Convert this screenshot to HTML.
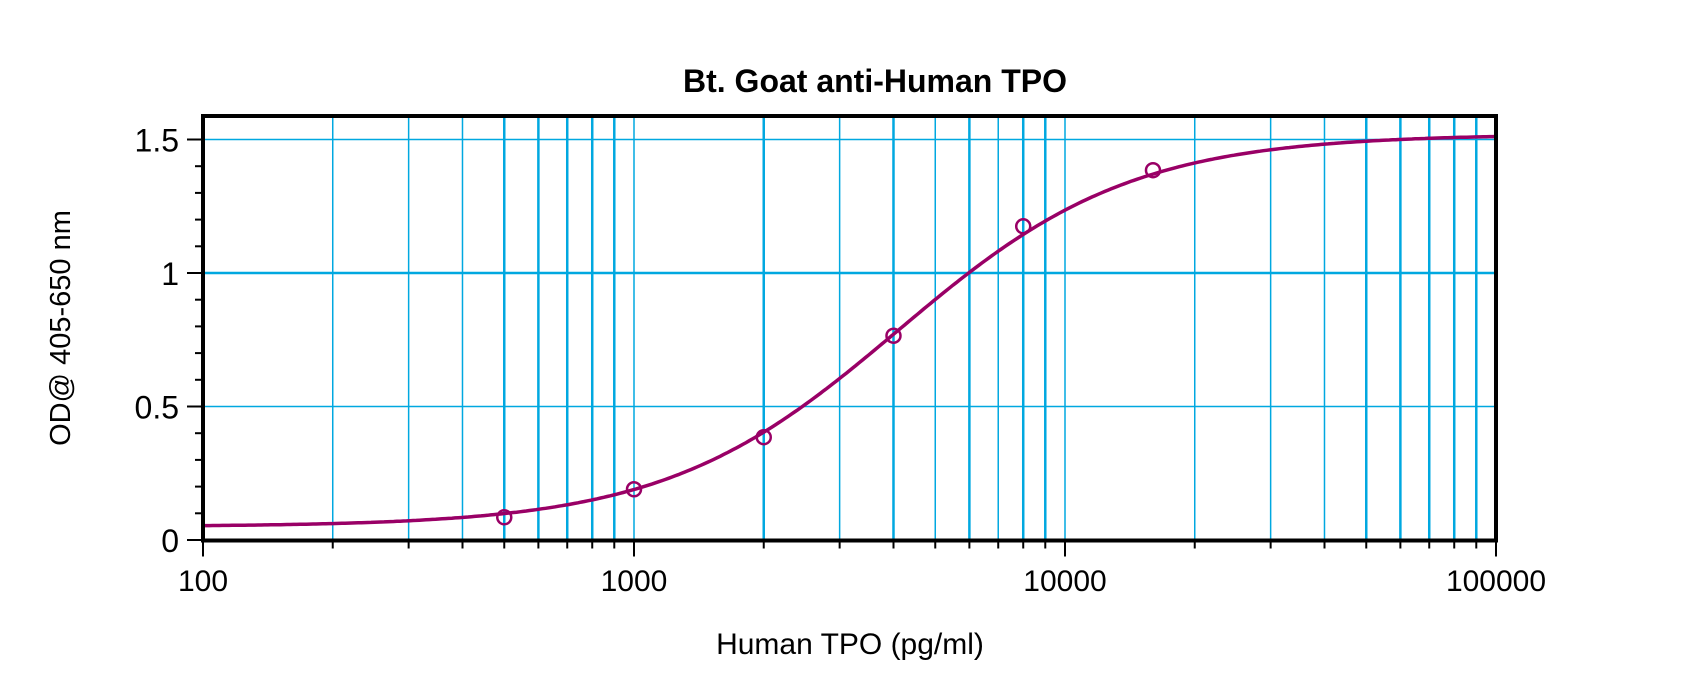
<!DOCTYPE html>
<html><head><meta charset="utf-8"><style>
html,body{margin:0;padding:0;background:#fff;width:1700px;height:686px;overflow:hidden}
svg{display:block}
text{font-family:"Liberation Sans",Arial,sans-serif;fill:#000}
</style></head><body>
<svg id="s" width="1700" height="686" viewBox="0 0 1700 686" xmlns="http://www.w3.org/2000/svg">
<g id="grid"></g>
<path id="curve" fill="none" stroke="#990066" stroke-width="3.5"/>
<g id="pts"></g>
<rect x="203" y="116" width="1293" height="424.5" fill="none" stroke="#000" stroke-width="4"/>
<g id="ticks" stroke="#000" stroke-width="2"></g>
<text x="875" y="92" font-size="32" font-weight="bold" text-anchor="middle">Bt. Goat anti-Human TPO</text>
<text transform="translate(70,328) rotate(-90)" font-size="29" text-anchor="middle">OD@ 405-650 nm</text>
<text x="850" y="654" font-size="30" text-anchor="middle">Human TPO (pg/ml)</text>
<g id="lbl"></g>
</svg>
<script>
var NS="http://www.w3.org/2000/svg";
function el(p,t,a,txt){var e=document.createElementNS(NS,t);for(var k in a)e.setAttribute(k,a[k]);if(txt!==undefined)e.textContent=txt;document.getElementById(p).appendChild(e);return e;}
var L=203,R=1496,T=116,B=540.5,DEC=431;
function X(v){return L+DEC*(Math.log10(v)-2);}
function Y(v){return 540-267*v;}
var thick={500:1,600:1,700:1,800:1,900:1,2000:1,4000:1,6000:1,8000:1,9000:1,50000:1,60000:1,70000:1,80000:1,90000:1};
for(var d=100;d<=10000;d*=10){for(var m=1;m<=9;m++){var v=d*m;if(v==100)continue;var x=X(v);
el("grid","line",{x1:x,x2:x,y1:T,y2:B,stroke:"#00a8e0","stroke-width":thick[v]?2.5:1.5});
el("ticks","line",{x1:x,x2:x,y1:B,y2:B+(m==1?16:8)});}}
el("ticks","line",{x1:R,x2:R,y1:B,y2:B+16});el("ticks","line",{x1:L,x2:L,y1:B,y2:B+16});
[0.5,1,1.5].forEach(function(v){el("grid","line",{x1:L,x2:R,y1:Y(v),y2:Y(v),stroke:"#00a8e0","stroke-width":v==1?2.5:1.5});});
for(var i=0;i<=15;i++){var y=Y(i/10);el("ticks","line",{x1:L-(i%5==0?16:8),x2:L,y1:y,y2:y});}
[["0",0],["0.5",0.5],["1",1],["1.5",1.5]].forEach(function(a){el("lbl","text",{x:179,y:Y(a[1])+12,"text-anchor":"end","font-size":32},a[0]);});
[100,1000,10000,100000].forEach(function(v){el("lbl","text",{x:X(v),y:591,"text-anchor":"middle","font-size":30},String(v));});
function f(x){return 0.05+1.47/(1+Math.pow(4100/x,1.6));}
var dd="";for(var i=0;i<=400;i++){var lx=2+3*i/400,v=Math.pow(10,lx);dd+=(i?"L":"M")+X(v).toFixed(1)+" "+Y(f(v)).toFixed(1);}
document.getElementById("curve").setAttribute("d",dd);
[[500,0.085],[1000,0.19],[2000,0.385],[4000,0.765],[8000,1.175],[16000,1.385]].forEach(function(p){
el("pts","circle",{cx:X(p[0]),cy:Y(p[1]),r:7,fill:"none",stroke:"#990066","stroke-width":2.5});});
</script>
</body></html>
